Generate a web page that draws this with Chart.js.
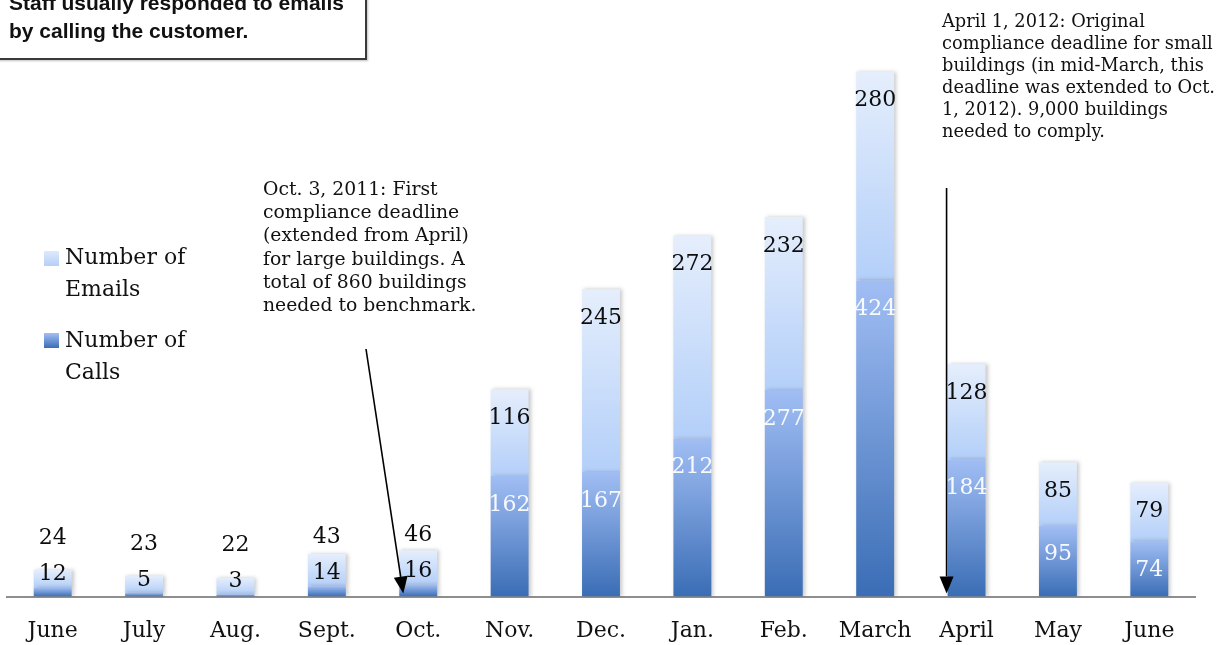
<!DOCTYPE html>
<html>
<head>
<meta charset="utf-8">
<script src="https://cdn.jsdelivr.net/npm/chart.js@4.4.1/dist/chart.umd.min.js"></script>
<style>
  html, body { margin: 0; padding: 0; background: #fff; }
  #wrap { position: relative; width: 1225px; height: 645px; overflow: hidden; }
  #chart { position: absolute; left: 0; top: 0; }
  .note { position: absolute; font-family: "DejaVu Serif", serif; color: #111; white-space: nowrap; }
  #box { position: absolute; left: -4px; top: -30px; width: 371px; height: 90px; box-sizing: border-box;
         border: 2px solid #3a3a3a; background: #fff; box-shadow: 1px 1px 2px rgba(0,0,0,0.25);
         font-family: "Liberation Sans", Arial, sans-serif; font-weight: bold; font-size: 21px; line-height: 28px;
         color: #111; padding: 16.5px 0 0 11px; white-space: nowrap; }
  .leg { position: absolute; font-family: "DejaVu Serif", serif; font-size: 22px; line-height: 31.5px; color: #111; }
  .sw { position: absolute; width: 15px; height: 15px; }
</style>
</head>
<body>
<div id="wrap">
  <canvas id="chart" width="1225" height="668"></canvas>
  <div id="box">Staff usually responded to emails<br>by calling the customer.</div>
  <div class="note" style="left:263px; top:177px; font-size:18.8px; line-height:23.2px;">Oct. 3, 2011: First<br>compliance deadline<br>(extended from April)<br>for large buildings. A<br>total of 860 buildings<br>needed to benchmark.</div>
  <div class="note" style="left:942px; top:9.5px; font-size:17.8px; line-height:22px;">April 1, 2012: Original<br>compliance deadline for small<br>buildings (in mid-March, this<br>deadline was extended to Oct.<br>1, 2012). 9,000 buildings<br>needed to comply.</div>
  <div id="legend"></div>
</div>
<script>
// ---- data ----
const categories = ["June", "July", "Aug.", "Sept.", "Oct.", "Nov.", "Dec.", "Jan.", "Feb.", "March", "April", "May", "June"];
const calls  = [12, 5, 3, 14, 16, 162, 167, 212, 277, 424, 184, 95, 74];
const emails = [24, 23, 22, 43, 46, 116, 245, 272, 232, 280, 128, 85, 79];
const seriesNames = ["Number of Calls", "Number of Emails"];

// ---- styles ----
const callsStops  = ["#a1bef4", "#3a6db5"];
const emailsStops = ["#e5eefc", "#b3cff9"];

function segGradient(ctx, which) {
  const chart = ctx.chart;
  const i = ctx.dataIndex;
  const stops = which === 0 ? callsStops : emailsStops;
  if (!chart.chartArea || i === undefined) return stops[1];
  const ys = chart.scales.y;
  const lo = which === 0 ? 0 : calls[i];
  const hi = which === 0 ? calls[i] : calls[i] + emails[i];
  const t = ys.getPixelForValue(hi), b = ys.getPixelForValue(lo);
  if (!isFinite(t) || !isFinite(b) || b - t < 0.5) return stops[1];
  const g = chart.ctx.createLinearGradient(0, t, 0, b);
  g.addColorStop(0, stops[0]);
  g.addColorStop(1, stops[1]);
  return g;
}

const shadowPlugin = {
  id: 'barShadow',
  beforeDatasetsDraw(chart) {
    const c = chart.ctx; c.save();
    c.shadowColor = 'rgba(0,0,0,0.22)'; c.shadowBlur = 4; c.shadowOffsetX = 2; c.shadowOffsetY = 0;
  },
  afterDatasetsDraw(chart) { chart.ctx.restore(); }
};

const labelPlugin = {
  id: 'segLabels',
  afterDatasetsDraw(chart) {
    const ctx = chart.ctx;
    const mc = chart.getDatasetMeta(0), me = chart.getDatasetMeta(1);
    ctx.save();
    ctx.font = '22px "DejaVu Serif"';
    ctx.textAlign = 'center';
    ctx.textBaseline = 'middle';
    categories.forEach((c, i) => {
      const cb = mc.data[i], eb = me.data[i];
      const x = cb.x;
      let cy, ccol;
      if (cb.base - cb.y >= 45) { cy = cb.y + 29; ccol = 'rgba(255,255,255,0.93)'; }
      else { cy = cb.y - 13; ccol = '#0d0d0d'; }
      const ey = (eb.base - eb.y >= 45) ? eb.y + 29 : cy - 36;
      ctx.fillStyle = ccol; ctx.fillText(String(calls[i]), x, cy);
      ctx.fillStyle = '#0d0d0d'; ctx.fillText(String(emails[i]), x, ey);
    });
    ctx.restore();
  }
};

function arrow(ctx, x1, y1, x2, y2) {
  const ang = Math.atan2(y2 - y1, x2 - x1);
  const len = 17, half = 7;
  const bx = x2 - len * Math.cos(ang), by = y2 - len * Math.sin(ang);
  ctx.beginPath(); ctx.moveTo(x1, y1); ctx.lineTo(bx, by); ctx.stroke();
  ctx.beginPath();
  ctx.moveTo(x2, y2);
  ctx.lineTo(bx + half * Math.sin(ang), by - half * Math.cos(ang));
  ctx.lineTo(bx - half * Math.sin(ang), by + half * Math.cos(ang));
  ctx.closePath(); ctx.fill();
}

const arrowPlugin = {
  id: 'arrows',
  afterDraw(chart) {
    const ctx = chart.ctx;
    const mc = chart.getDatasetMeta(0);
    const base = chart.scales.y.getPixelForValue(0) - 3;
    const oct = mc.data[4], apr = mc.data[10];
    ctx.save();
    ctx.strokeStyle = '#000'; ctx.fillStyle = '#000'; ctx.lineWidth = 1.6;
    arrow(ctx, 366, 349, oct.x - oct.width / 2 + 4, base);
    const ax = apr.x - apr.width / 2 - 1;
    arrow(ctx, ax, 188, ax, base);
    ctx.restore();
  }
};

new Chart(document.getElementById('chart'), {
  type: 'bar',
  data: {
    labels: categories,
    datasets: [
      { label: seriesNames[0], data: calls, backgroundColor: (c) => segGradient(c, 0), borderWidth: 0 },
      { label: seriesNames[1], data: emails, backgroundColor: (c) => segGradient(c, 1), borderWidth: 0 }
    ]
  },
  options: {
    responsive: false,
    devicePixelRatio: 1,
    animation: false,
    layout: { padding: { left: 7, right: 30, top: 0, bottom: 3 } },
    datasets: { bar: { barPercentage: 1, categoryPercentage: 0.415 } },
    plugins: { legend: { display: false }, tooltip: { enabled: false } },
    scales: {
      x: {
        stacked: true,
        grid: { display: false, drawTicks: false },
        border: { display: true, color: '#8e8e8e', width: 2 },
        ticks: { color: '#111', font: { family: 'DejaVu Serif', size: 22 }, padding: 21, maxRotation: 0, autoSkip: false }
      },
      y: { stacked: true, display: false, min: 0, max: 800 }
    }
  },
  plugins: [shadowPlugin, labelPlugin, arrowPlugin]
});

// ---- HTML legend (emails first, then calls) ----
const legend = document.getElementById('legend');
const legItems = [
  { name: seriesNames[1], stops: ["#dfe9fb", "#b4cff8"], sq: 251, tx: 241 },
  { name: seriesNames[0], stops: ["#a3bff3", "#3b6db5"], sq: 333, tx: 324 }
];
legItems.forEach(it => {
  const sw = document.createElement('div');
  sw.className = 'sw';
  sw.style.left = '44px'; sw.style.top = it.sq + 'px';
  sw.style.background = 'linear-gradient(' + it.stops[0] + ',' + it.stops[1] + ')';
  legend.appendChild(sw);
  const t = document.createElement('div');
  t.className = 'leg';
  t.style.left = '65px'; t.style.top = it.tx + 'px'; t.style.width = '135px';
  t.textContent = it.name;
  legend.appendChild(t);
});
</script>
</body>
</html>
